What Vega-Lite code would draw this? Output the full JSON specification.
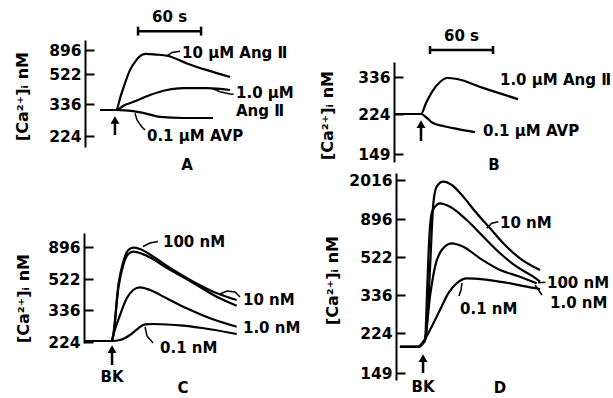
{
"$schema": "https://vega.github.io/schema/vega-lite/v6.json",
"width": 613, "height": 398, "autosize": {"type": "none"}, "padding": 0,
"background": "white",
"config": {
 "view": {"stroke": null},
 "text": {"font": "DejaVu Sans", "fontWeight": "bold", "fontSize": 15, "color": "black", "baseline": "middle"},
 "axis": {"grid": false, "domainColor": "black", "domainWidth": 2, "tickColor": "black", "tickWidth": 2, "tickSize": -9, "labelPadding": 13,
  "labelFont": "DejaVu Sans", "labelFontWeight": "bold", "labelFontSize": 15.5, "labelColor": "black", "labelFlush": false, "labelOverlap": false,
  "titleFont": "DejaVu Sans", "titleFontWeight": "bold", "titleFontSize": 16, "titleColor": "black", "titleAngle": 270, "titleAlign": "center", "titleBaseline": "middle"}
},
"datasets": {
 "curves": [
  {"p":"A","s":"A10","i":0,"t":-15,"ca":315},{"p":"A","s":"A10","i":1,"t":0,"ca":315},{"p":"A","s":"A10","i":2,"t":4.8,"ca":392},{"p":"A","s":"A10","i":3,"t":8.6,"ca":466},{"p":"A","s":"A10","i":4,"t":13.3,"ca":582},{"p":"A","s":"A10","i":5,"t":19,"ca":731},{"p":"A","s":"A10","i":6,"t":24.8,"ca":821},{"p":"A","s":"A10","i":7,"t":28.6,"ca":836},{"p":"A","s":"A10","i":8,"t":38,"ca":825},{"p":"A","s":"A10","i":9,"t":48.6,"ca":806},{"p":"A","s":"A10","i":10,"t":67.6,"ca":687},{"p":"A","s":"A10","i":11,"t":86.7,"ca":582},{"p":"A","s":"A10","i":12,"t":108.6,"ca":503},
  {"p":"A","s":"A1","i":0,"t":-15,"ca":315},{"p":"A","s":"A1","i":1,"t":0,"ca":315},{"p":"A","s":"A1","i":2,"t":8,"ca":332},{"p":"A","s":"A1","i":3,"t":16.2,"ca":348},{"p":"A","s":"A1","i":4,"t":32.4,"ca":392},{"p":"A","s":"A1","i":5,"t":48.6,"ca":423},{"p":"A","s":"A1","i":6,"t":63.8,"ca":435},{"p":"A","s":"A1","i":7,"t":86.7,"ca":435},{"p":"A","s":"A1","i":8,"t":108.6,"ca":423},
  {"p":"A","s":"AV","i":0,"t":-15,"ca":315},{"p":"A","s":"AV","i":1,"t":0,"ca":315},{"p":"A","s":"AV","i":2,"t":8,"ca":314},{"p":"A","s":"AV","i":3,"t":16.2,"ca":311},{"p":"A","s":"AV","i":4,"t":25.7,"ca":305},{"p":"A","s":"AV","i":5,"t":41.9,"ca":291},{"p":"A","s":"AV","i":6,"t":63.8,"ca":287},{"p":"A","s":"AV","i":7,"t":92.4,"ca":287},
  {"p":"B","s":"B1","i":0,"t":-25,"ca":224},{"p":"B","s":"B1","i":1,"t":0,"ca":224},{"p":"B","s":"B1","i":2,"t":4.8,"ca":257},{"p":"B","s":"B1","i":3,"t":10.5,"ca":291},{"p":"B","s":"B1","i":4,"t":18.1,"ca":321},{"p":"B","s":"B1","i":5,"t":24.8,"ca":333},{"p":"B","s":"B1","i":6,"t":34.3,"ca":330},{"p":"B","s":"B1","i":7,"t":59,"ca":303},{"p":"B","s":"B1","i":8,"t":92.4,"ca":269},
  {"p":"B","s":"BV","i":0,"t":-25,"ca":224},{"p":"B","s":"BV","i":1,"t":0,"ca":224},{"p":"B","s":"BV","i":2,"t":5.7,"ca":216.5},{"p":"B","s":"BV","i":3,"t":11.4,"ca":207},{"p":"B","s":"BV","i":4,"t":21,"ca":201.5},{"p":"B","s":"BV","i":5,"t":34.3,"ca":196},{"p":"B","s":"BV","i":6,"t":51.4,"ca":190},
  {"p":"C","s":"C100","i":0,"t":-25,"ca":227.5},{"p":"C","s":"C100","i":1,"t":0.7,"ca":227.5},{"p":"C","s":"C100","i":2,"t":2.2,"ca":248.5},{"p":"C","s":"C100","i":3,"t":7,"ca":486},{"p":"C","s":"C100","i":4,"t":11.7,"ca":724},{"p":"C","s":"C100","i":5,"t":16.5,"ca":861},{"p":"C","s":"C100","i":6,"t":21.2,"ca":888},{"p":"C","s":"C100","i":7,"t":27.6,"ca":873},{"p":"C","s":"C100","i":8,"t":40.3,"ca":783},{"p":"C","s":"C100","i":9,"t":59.3,"ca":627},{"p":"C","s":"C100","i":10,"t":78.4,"ca":506},{"p":"C","s":"C100","i":11,"t":97.4,"ca":446},{"p":"C","s":"C100","i":12,"t":119.7,"ca":396},
  {"p":"C","s":"C10","i":0,"t":-25,"ca":227.5},{"p":"C","s":"C10","i":1,"t":0.7,"ca":227.5},{"p":"C","s":"C10","i":2,"t":2.2,"ca":248.5},{"p":"C","s":"C10","i":3,"t":7,"ca":468},{"p":"C","s":"C10","i":4,"t":11.7,"ca":686},{"p":"C","s":"C10","i":5,"t":16.5,"ca":814},{"p":"C","s":"C10","i":6,"t":21.2,"ca":841},{"p":"C","s":"C10","i":7,"t":34,"ca":794},{"p":"C","s":"C10","i":8,"t":53,"ca":654},{"p":"C","s":"C10","i":9,"t":78.4,"ca":498},{"p":"C","s":"C10","i":10,"t":100.7,"ca":416},{"p":"C","s":"C10","i":11,"t":119.7,"ca":362},
  {"p":"C","s":"C1","i":0,"t":-25,"ca":227.5},{"p":"C","s":"C1","i":1,"t":0.7,"ca":227.5},{"p":"C","s":"C1","i":2,"t":2.2,"ca":248.5},{"p":"C","s":"C1","i":3,"t":8.6,"ca":318.5},{"p":"C","s":"C1","i":4,"t":15,"ca":406},{"p":"C","s":"C1","i":5,"t":21.2,"ca":456},{"p":"C","s":"C1","i":6,"t":27.6,"ca":472},{"p":"C","s":"C1","i":7,"t":37.1,"ca":456},{"p":"C","s":"C1","i":8,"t":53,"ca":406},{"p":"C","s":"C1","i":9,"t":72.1,"ca":346},{"p":"C","s":"C1","i":10,"t":94.3,"ca":307},{"p":"C","s":"C1","i":11,"t":119.7,"ca":277.5},
  {"p":"C","s":"C01","i":0,"t":-25,"ca":227.5},{"p":"C","s":"C01","i":1,"t":0.7,"ca":227.5},{"p":"C","s":"C01","i":2,"t":8.6,"ca":231},{"p":"C","s":"C01","i":3,"t":18.1,"ca":248.5},{"p":"C","s":"C01","i":4,"t":26,"ca":272},{"p":"C","s":"C01","i":5,"t":32.4,"ca":286},{"p":"C","s":"C01","i":6,"t":40.3,"ca":287},{"p":"C","s":"C01","i":7,"t":68.9,"ca":281},{"p":"C","s":"C01","i":8,"t":94.3,"ca":268.5},{"p":"C","s":"C01","i":9,"t":119.7,"ca":252},
  {"p":"D","s":"D10","i":0,"t":-21,"ca":198},{"p":"D","s":"D10","i":1,"t":-3.8,"ca":198},{"p":"D","s":"D10","i":2,"t":1,"ca":205},{"p":"D","s":"D10","i":3,"t":2.9,"ca":211},{"p":"D","s":"D10","i":4,"t":6,"ca":311.5},{"p":"D","s":"D10","i":5,"t":8.3,"ca":558},{"p":"D","s":"D10","i":6,"t":10.8,"ca":1347},{"p":"D","s":"D10","i":7,"t":14,"ca":1824},{"p":"D","s":"D10","i":8,"t":20.3,"ca":1967},{"p":"D","s":"D10","i":9,"t":28.3,"ca":1872},{"p":"D","s":"D10","i":10,"t":39.3,"ca":1536},{"p":"D","s":"D10","i":11,"t":52.1,"ca":1060},{"p":"D","s":"D10","i":12,"t":64.8,"ca":804.5},{"p":"D","s":"D10","i":13,"t":77.4,"ca":657},{"p":"D","s":"D10","i":14,"t":93.3,"ca":515.6},{"p":"D","s":"D10","i":15,"t":112.4,"ca":458.4},
  {"p":"D","s":"D100","i":0,"t":-21,"ca":198},{"p":"D","s":"D100","i":1,"t":-3.8,"ca":198},{"p":"D","s":"D100","i":2,"t":1,"ca":205},{"p":"D","s":"D100","i":3,"t":2.9,"ca":211},{"p":"D","s":"D100","i":4,"t":5,"ca":376.6},{"p":"D","s":"D100","i":5,"t":7,"ca":722},{"p":"D","s":"D100","i":6,"t":9.2,"ca":1059},{"p":"D","s":"D100","i":7,"t":12.4,"ca":1249},{"p":"D","s":"D100","i":8,"t":17.1,"ca":1347},{"p":"D","s":"D100","i":9,"t":26.7,"ca":1249},{"p":"D","s":"D100","i":10,"t":42.6,"ca":886},{"p":"D","s":"D100","i":11,"t":58.4,"ca":722},{"p":"D","s":"D100","i":12,"t":74.3,"ca":559},{"p":"D","s":"D100","i":13,"t":90.2,"ca":474.5},{"p":"D","s":"D100","i":14,"t":106,"ca":425.6},{"p":"D","s":"D100","i":15,"t":112.4,"ca":401},
  {"p":"D","s":"D1","i":0,"t":-21,"ca":198},{"p":"D","s":"D1","i":1,"t":-3.8,"ca":198},{"p":"D","s":"D1","i":2,"t":1,"ca":205},{"p":"D","s":"D1","i":3,"t":2.9,"ca":211},{"p":"D","s":"D1","i":4,"t":7.6,"ca":331},{"p":"D","s":"D1","i":5,"t":12.4,"ca":474.5},{"p":"D","s":"D1","i":6,"t":18.8,"ca":591},{"p":"D","s":"D1","i":7,"t":28.3,"ca":657},{"p":"D","s":"D1","i":8,"t":39.3,"ca":623.4},{"p":"D","s":"D1","i":9,"t":55.2,"ca":515.6},{"p":"D","s":"D1","i":10,"t":74.3,"ca":458.4},{"p":"D","s":"D1","i":11,"t":93.3,"ca":425.6},{"p":"D","s":"D1","i":12,"t":109.2,"ca":393.3},
  {"p":"D","s":"D01","i":0,"t":-21,"ca":198},{"p":"D","s":"D01","i":1,"t":-3.8,"ca":198},{"p":"D","s":"D01","i":2,"t":1.2,"ca":207.7},{"p":"D","s":"D01","i":3,"t":9.2,"ca":242.6},{"p":"D","s":"D01","i":4,"t":17.1,"ca":291.8},{"p":"D","s":"D01","i":5,"t":25,"ca":344.3},{"p":"D","s":"D01","i":6,"t":33,"ca":393.3},{"p":"D","s":"D01","i":7,"t":42.6,"ca":417.7},{"p":"D","s":"D01","i":8,"t":58.4,"ca":412.8},{"p":"D","s":"D01","i":9,"t":80.7,"ca":396},{"p":"D","s":"D01","i":10,"t":102.9,"ca":373.7},{"p":"D","s":"D01","i":11,"t":112.4,"ca":365.4}
 ],
 "leaders": [
  {"p":"A","s":"LA10","i":0,"t":48.3,"ca":806},{"p":"A","s":"LA10","i":1,"t":53.5,"ca":858},{"p":"A","s":"LA10","i":2,"t":61,"ca":878},
  {"p":"A","s":"LA1","i":0,"t":92.4,"ca":430},{"p":"A","s":"LA1","i":1,"t":99,"ca":412},{"p":"A","s":"LA1","i":2,"t":108.6,"ca":398},{"p":"A","s":"LA1","i":3,"t":112,"ca":396},
  {"p":"A","s":"LAV","i":0,"t":18.1,"ca":303.5},{"p":"A","s":"LAV","i":1,"t":20,"ca":280},{"p":"A","s":"LAV","i":2,"t":24.5,"ca":256.5},{"p":"A","s":"LAV","i":3,"t":27.6,"ca":245},
  {"p":"C","s":"LC100","i":0,"t":30.5,"ca":902},{"p":"C","s":"LC100","i":1,"t":37.1,"ca":943},{"p":"C","s":"LC100","i":2,"t":44.8,"ca":960},
  {"p":"C","s":"LC10","i":0,"t":103.8,"ca":432},{"p":"C","s":"LC10","i":1,"t":110.5,"ca":450},{"p":"C","s":"LC10","i":2,"t":118.1,"ca":444},{"p":"C","s":"LC10","i":3,"t":122.9,"ca":414},
  {"p":"C","s":"LC01","i":0,"t":32.4,"ca":276.5},{"p":"C","s":"LC01","i":1,"t":34.3,"ca":245},{"p":"C","s":"LC01","i":2,"t":40,"ca":220.5},
  {"p":"D","s":"LD10","i":0,"t":61.6,"ca":804.5},{"p":"D","s":"LD10","i":1,"t":66.4,"ca":853.7},{"p":"D","s":"LD10","i":2,"t":72.7,"ca":869.4},
  {"p":"D","s":"LD100","i":0,"t":110.5,"ca":396},{"p":"D","s":"LD100","i":1,"t":117.5,"ca":399},
  {"p":"D","s":"LD1","i":0,"t":107.6,"ca":385},{"p":"D","s":"LD1","i":1,"t":114.3,"ca":336},
  {"p":"D","s":"LD01","i":0,"t":38.1,"ca":394.7},{"p":"D","s":"LD01","i":1,"t":37.1,"ca":360.5},{"p":"D","s":"LD01","i":2,"t":35.2,"ca":333}
 ],
 "segments": [
  {"p":"A","t":21,"t2":81,"ca":1150,"ca2":1150},{"p":"A","t":21,"t2":21,"ca":1210,"ca2":1090},{"p":"A","t":81,"t2":81,"ca":1210,"ca2":1090},{"p":"A","t":-1,"t2":-1,"ca":273,"ca2":227.5},
  {"p":"B","t":8.6,"t2":68.6,"ca":417.7,"ca2":417.7},{"p":"B","t":8.6,"t2":8.6,"ca":429.8,"ca2":405.6},{"p":"B","t":68.6,"t2":68.6,"ca":429.8,"ca2":405.6},{"p":"B","t":0,"t2":0,"ca":199.6,"ca2":173.4},
  {"p":"C","t":1,"t2":1,"ca":192.5,"ca2":143.5},
  {"p":"D","t":1,"t2":1,"ca":173.4,"ca2":149}
 ],
 "heads": [
  {"p":"A","t":-1,"ca":280},{"p":"B","t":0,"ca":205},{"p":"C","t":1,"ca":199},{"p":"D","t":1,"ca":177}
 ],
 "texts": [
  {"p":"A","txt":"60 s","t":51,"ca":1345,"al":"c"},{"p":"A","txt":"10 μM Ang Ⅱ","t":62.9,"ca":851,"al":"l"},{"p":"A","txt":"1.0 μM","t":114.3,"ca":404,"al":"l"},{"p":"A","txt":"Ang Ⅱ","t":114.3,"ca":311.5,"al":"l"},{"p":"A","txt":"0.1 μM AVP","t":29.5,"ca":224,"al":"l"},{"p":"A","txt":"A","t":67.6,"ca":122.5,"al":"c"},
  {"p":"B","txt":"60 s","t":38.6,"ca":460,"al":"c"},{"p":"B","txt":"1.0 μM Ang Ⅱ","t":75.2,"ca":327,"al":"l"},{"p":"B","txt":"0.1 μM AVP","t":59,"ca":192,"al":"l"},{"p":"B","txt":"B","t":69.5,"ca":128.4,"al":"c"},
  {"p":"C","txt":"100 nM","t":49.5,"ca":954,"al":"l"},{"p":"C","txt":"10 nM","t":125.7,"ca":396,"al":"l"},{"p":"C","txt":"1.0 nM","t":125.7,"ca":273,"al":"l"},{"p":"C","txt":"0.1 nM","t":46.7,"ca":203,"al":"l"},{"p":"C","txt":"BK","t":1,"ca":101.5,"al":"c"},{"p":"C","txt":"C","t":68.6,"ca":63,"al":"c"},
  {"p":"D","txt":"10 nM","t":74.3,"ca":856.6,"al":"l"},{"p":"D","txt":"100 nM","t":119,"ca":395,"al":"l"},{"p":"D","txt":"1.0 nM","t":121.9,"ca":312.4,"al":"l"},{"p":"D","txt":"0.1 nM","t":36.2,"ca":294.7,"al":"l"},{"p":"D","txt":"BK","t":1,"ca":122.75,"al":"c"},{"p":"D","txt":"D","t":74.3,"ca":121,"al":"c"}
 ]
},
"layer": [
 {
  "encoding": {
   "x": {"field": "t", "type": "quantitative", "axis": null, "scale": {"domain": [-30, 120], "range": [84.5, 242], "nice": false, "zero": false}},
   "y": {"field": "ca", "type": "quantitative", "scale": {"domain": [185.5, 224, 336, 522, 896, 1030.6], "range": [147, 136, 104, 74, 50, 40], "nice": false, "zero": false},
         "axis": {"orient": "left", "offset": -85, "values": [224, 336, 522, 896], "format": "d", "title": "[Ca²⁺]ᵢ  nM", "titleX": -63, "titleY": 96}}
  },
  "layer": [
   {"data": {"name": "curves"}, "transform": [{"filter": "datum.p === 'A'"}], "mark": {"type": "line", "interpolate": "monotone", "strokeWidth": 2.2, "color": "black", "clip": false}, "encoding": {"detail": {"field": "s"}, "order": {"field": "i", "type": "quantitative"}}},
   {"data": {"name": "leaders"}, "transform": [{"filter": "datum.p === 'A'"}], "mark": {"type": "line", "strokeWidth": 1.5, "color": "black", "clip": false}, "encoding": {"detail": {"field": "s"}, "order": {"field": "i", "type": "quantitative"}}},
   {"data": {"name": "segments"}, "transform": [{"filter": "datum.p === 'A'"}], "mark": {"type": "rule", "strokeWidth": 2.5, "color": "black", "clip": false}, "encoding": {"x2": {"field": "t2"}, "y2": {"field": "ca2"}}},
   {"data": {"name": "heads"}, "transform": [{"filter": "datum.p === 'A'"}], "mark": {"type": "point", "shape": "triangle-up", "filled": true, "size": 80, "color": "black", "opacity": 1, "clip": false}},
   {"data": {"name": "texts"}, "transform": [{"filter": "datum.p === 'A' && datum.al === 'l'"}], "mark": {"type": "text", "align": "left", "clip": false}, "encoding": {"text": {"field": "txt"}}},
   {"data": {"name": "texts"}, "transform": [{"filter": "datum.p === 'A' && datum.al === 'c'"}], "mark": {"type": "text", "align": "center", "clip": false}, "encoding": {"text": {"field": "txt"}}}
  ]
 },
 {
  "encoding": {
   "x": {"field": "t", "type": "quantitative", "axis": null, "scale": {"domain": [-30, 120], "range": [389.5, 547], "nice": false, "zero": false}},
   "y": {"field": "ca", "type": "quantitative", "scale": {"domain": [134, 149, 224, 336, 381.4], "range": [162, 154, 114, 77, 62], "nice": false, "zero": false},
         "axis": {"orient": "left", "offset": -394, "values": [149, 224, 336], "format": "d", "title": "[Ca²⁺]ᵢ  nM", "titleX": -67, "titleY": 115}}
  },
  "layer": [
   {"data": {"name": "curves"}, "transform": [{"filter": "datum.p === 'B'"}], "mark": {"type": "line", "interpolate": "monotone", "strokeWidth": 2.2, "color": "black", "clip": false}, "encoding": {"detail": {"field": "s"}, "order": {"field": "i", "type": "quantitative"}}},
   {"data": {"name": "segments"}, "transform": [{"filter": "datum.p === 'B'"}], "mark": {"type": "rule", "strokeWidth": 2.5, "color": "black", "clip": false}, "encoding": {"x2": {"field": "t2"}, "y2": {"field": "ca2"}}},
   {"data": {"name": "heads"}, "transform": [{"filter": "datum.p === 'B'"}], "mark": {"type": "point", "shape": "triangle-up", "filled": true, "size": 80, "color": "black", "opacity": 1, "clip": false}},
   {"data": {"name": "texts"}, "transform": [{"filter": "datum.p === 'B' && datum.al === 'l'"}], "mark": {"type": "text", "align": "left", "clip": false}, "encoding": {"text": {"field": "txt"}}},
   {"data": {"name": "texts"}, "transform": [{"filter": "datum.p === 'B' && datum.al === 'c'"}], "mark": {"type": "text", "align": "center", "clip": false}, "encoding": {"text": {"field": "txt"}}}
  ]
 },
 {
  "encoding": {
   "x": {"field": "t", "type": "quantitative", "axis": null, "scale": {"domain": [-30, 130], "range": [79.5, 247.5], "nice": false, "zero": false}},
   "y": {"field": "ca", "type": "quantitative", "scale": {"domain": [220.5, 224, 336, 522, 896, 1060], "range": [343, 342, 310, 279, 247, 233], "nice": false, "zero": false},
         "axis": {"orient": "left", "offset": -84, "values": [224, 336, 522, 896], "format": "d", "title": "[Ca²⁺]ᵢ  nM", "titleX": -61, "titleY": 298}}
  },
  "layer": [
   {"data": {"name": "curves"}, "transform": [{"filter": "datum.p === 'C'"}], "mark": {"type": "line", "interpolate": "monotone", "strokeWidth": 2.2, "color": "black", "clip": false}, "encoding": {"detail": {"field": "s"}, "order": {"field": "i", "type": "quantitative"}}},
   {"data": {"name": "leaders"}, "transform": [{"filter": "datum.p === 'C'"}], "mark": {"type": "line", "strokeWidth": 1.5, "color": "black", "clip": false}, "encoding": {"detail": {"field": "s"}, "order": {"field": "i", "type": "quantitative"}}},
   {"data": {"name": "segments"}, "transform": [{"filter": "datum.p === 'C'"}], "mark": {"type": "rule", "strokeWidth": 2.5, "color": "black", "clip": false}, "encoding": {"x2": {"field": "t2"}, "y2": {"field": "ca2"}}},
   {"data": {"name": "heads"}, "transform": [{"filter": "datum.p === 'C'"}], "mark": {"type": "point", "shape": "triangle-up", "filled": true, "size": 80, "color": "black", "opacity": 1, "clip": false}},
   {"data": {"name": "texts"}, "transform": [{"filter": "datum.p === 'C' && datum.al === 'l'"}], "mark": {"type": "text", "align": "left", "clip": false}, "encoding": {"text": {"field": "txt"}}},
   {"data": {"name": "texts"}, "transform": [{"filter": "datum.p === 'C' && datum.al === 'c'"}], "mark": {"type": "text", "align": "center", "clip": false}, "encoding": {"text": {"field": "txt"}}}
  ]
 },
 {
  "encoding": {
   "x": {"field": "t", "type": "quantitative", "axis": null, "scale": {"domain": [-30, 130], "range": [390.5, 558.5], "nice": false, "zero": false}},
   "y": {"field": "ca", "type": "quantitative", "scale": {"domain": [136, 149, 224, 336, 522, 896, 2016, 2217], "range": [380, 373, 333, 295, 257, 219, 180, 173], "nice": false, "zero": false},
         "axis": {"orient": "left", "offset": -396, "values": [149, 224, 336, 522, 896, 2016], "format": "d", "title": "[Ca²⁺]ᵢ  nM", "titleX": -64, "titleY": 280}}
  },
  "layer": [
   {"data": {"name": "curves"}, "transform": [{"filter": "datum.p === 'D'"}], "mark": {"type": "line", "interpolate": "monotone", "strokeWidth": 2.2, "color": "black", "clip": false}, "encoding": {"detail": {"field": "s"}, "order": {"field": "i", "type": "quantitative"}}},
   {"data": {"name": "leaders"}, "transform": [{"filter": "datum.p === 'D'"}], "mark": {"type": "line", "strokeWidth": 1.5, "color": "black", "clip": false}, "encoding": {"detail": {"field": "s"}, "order": {"field": "i", "type": "quantitative"}}},
   {"data": {"name": "segments"}, "transform": [{"filter": "datum.p === 'D'"}], "mark": {"type": "rule", "strokeWidth": 2.5, "color": "black", "clip": false}, "encoding": {"x2": {"field": "t2"}, "y2": {"field": "ca2"}}},
   {"data": {"name": "heads"}, "transform": [{"filter": "datum.p === 'D'"}], "mark": {"type": "point", "shape": "triangle-up", "filled": true, "size": 80, "color": "black", "opacity": 1, "clip": false}},
   {"data": {"name": "texts"}, "transform": [{"filter": "datum.p === 'D' && datum.al === 'l'"}], "mark": {"type": "text", "align": "left", "clip": false}, "encoding": {"text": {"field": "txt"}}},
   {"data": {"name": "texts"}, "transform": [{"filter": "datum.p === 'D' && datum.al === 'c'"}], "mark": {"type": "text", "align": "center", "clip": false}, "encoding": {"text": {"field": "txt"}}}
  ]
 }
],
"resolve": {"scale": {"x": "independent", "y": "independent"}, "axis": {"x": "independent", "y": "independent"}}
}
